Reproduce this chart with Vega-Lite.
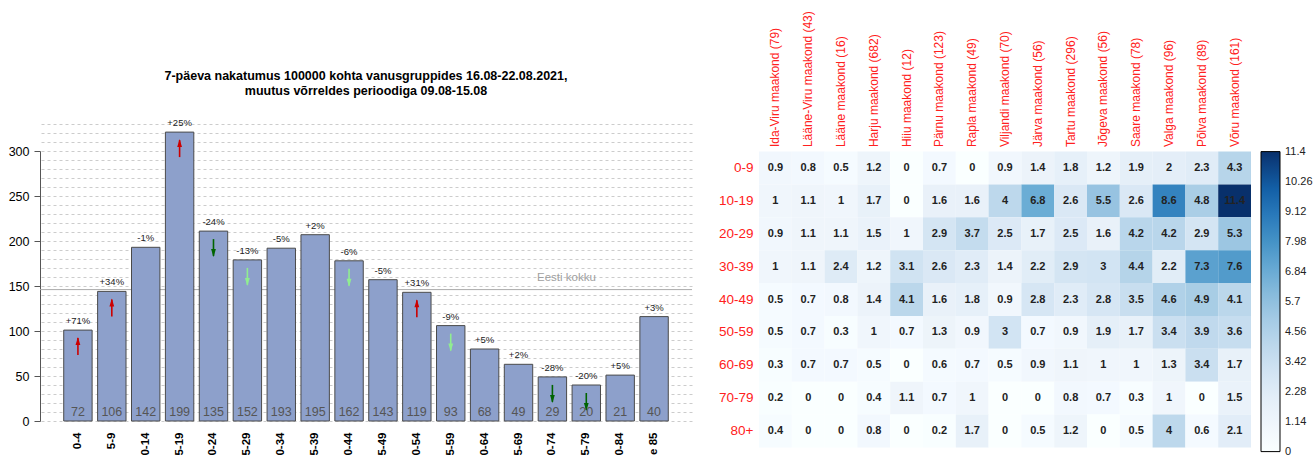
{
  "$schema": "https://vega.github.io/schema/vega-lite/v6.json",
  "padding": {"left": 8, "top": 10, "right": 0, "bottom": 0},
  "bounds": "flush",
  "spacing": 67,
  "config": {"font": "Liberation Sans", "view": {"stroke": null}},
  "datasets": {
    "ages": [
      {"age": "0-4", "value": 101, "count": 72, "chg": "+71%", "trend": "up"},
      {"age": "5-9", "value": 144, "count": 106, "chg": "+34%", "trend": "up"},
      {"age": "10-14", "value": 193, "count": 142, "chg": "-1%", "trend": "none"},
      {"age": "15-19", "value": 321, "count": 199, "chg": "+25%", "trend": "up"},
      {"age": "20-24", "value": 211, "count": 135, "chg": "-24%", "trend": "down"},
      {"age": "25-29", "value": 179, "count": 152, "chg": "-13%", "trend": "down_light"},
      {"age": "30-34", "value": 192, "count": 193, "chg": "-5%", "trend": "none"},
      {"age": "35-39", "value": 207, "count": 195, "chg": "+2%", "trend": "none"},
      {"age": "40-44", "value": 178, "count": 162, "chg": "-6%", "trend": "down_light"},
      {"age": "45-49", "value": 157, "count": 143, "chg": "-5%", "trend": "none"},
      {"age": "50-54", "value": 143, "count": 119, "chg": "+31%", "trend": "up"},
      {"age": "55-59", "value": 106, "count": 93, "chg": "-9%", "trend": "down_light"},
      {"age": "60-64", "value": 80, "count": 68, "chg": "+5%", "trend": "none"},
      {"age": "65-69", "value": 63, "count": 49, "chg": "+2%", "trend": "none"},
      {"age": "70-74", "value": 49, "count": 29, "chg": "-28%", "trend": "down"},
      {"age": "75-79", "value": 40, "count": 20, "chg": "-20%", "trend": "down"},
      {"age": "80-84", "value": 51, "count": 21, "chg": "+5%", "trend": "none"},
      {"age": "üle 85", "value": 116, "count": 40, "chg": "+3%", "trend": "none"}
    ],
    "total": [{"label": "Eesti kokku", "value": 146}],
    "heat": [
      {"age": "0-9", "county": "Ida-Viru maakond (79)", "value": 0.9},
      {"age": "0-9", "county": "Lääne-Viru maakond (43)", "value": 0.8},
      {"age": "0-9", "county": "Lääne maakond (16)", "value": 0.5},
      {"age": "0-9", "county": "Harju maakond (682)", "value": 1.2},
      {"age": "0-9", "county": "Hiiu maakond (12)", "value": 0},
      {"age": "0-9", "county": "Pärnu maakond (123)", "value": 0.7},
      {"age": "0-9", "county": "Rapla maakond (49)", "value": 0},
      {"age": "0-9", "county": "Viljandi maakond (70)", "value": 0.9},
      {"age": "0-9", "county": "Järva maakond (56)", "value": 1.4},
      {"age": "0-9", "county": "Tartu maakond (296)", "value": 1.8},
      {"age": "0-9", "county": "Jõgeva maakond (56)", "value": 1.2},
      {"age": "0-9", "county": "Saare maakond (78)", "value": 1.9},
      {"age": "0-9", "county": "Valga maakond (96)", "value": 2},
      {"age": "0-9", "county": "Põlva maakond (89)", "value": 2.3},
      {"age": "0-9", "county": "Võru maakond (161)", "value": 4.3},
      {"age": "10-19", "county": "Ida-Viru maakond (79)", "value": 1},
      {"age": "10-19", "county": "Lääne-Viru maakond (43)", "value": 1.1},
      {"age": "10-19", "county": "Lääne maakond (16)", "value": 1},
      {"age": "10-19", "county": "Harju maakond (682)", "value": 1.7},
      {"age": "10-19", "county": "Hiiu maakond (12)", "value": 0},
      {"age": "10-19", "county": "Pärnu maakond (123)", "value": 1.6},
      {"age": "10-19", "county": "Rapla maakond (49)", "value": 1.6},
      {"age": "10-19", "county": "Viljandi maakond (70)", "value": 4},
      {"age": "10-19", "county": "Järva maakond (56)", "value": 6.8},
      {"age": "10-19", "county": "Tartu maakond (296)", "value": 2.6},
      {"age": "10-19", "county": "Jõgeva maakond (56)", "value": 5.5},
      {"age": "10-19", "county": "Saare maakond (78)", "value": 2.6},
      {"age": "10-19", "county": "Valga maakond (96)", "value": 8.6},
      {"age": "10-19", "county": "Põlva maakond (89)", "value": 4.8},
      {"age": "10-19", "county": "Võru maakond (161)", "value": 11.4},
      {"age": "20-29", "county": "Ida-Viru maakond (79)", "value": 0.9},
      {"age": "20-29", "county": "Lääne-Viru maakond (43)", "value": 1.1},
      {"age": "20-29", "county": "Lääne maakond (16)", "value": 1.1},
      {"age": "20-29", "county": "Harju maakond (682)", "value": 1.5},
      {"age": "20-29", "county": "Hiiu maakond (12)", "value": 1},
      {"age": "20-29", "county": "Pärnu maakond (123)", "value": 2.9},
      {"age": "20-29", "county": "Rapla maakond (49)", "value": 3.7},
      {"age": "20-29", "county": "Viljandi maakond (70)", "value": 2.5},
      {"age": "20-29", "county": "Järva maakond (56)", "value": 1.7},
      {"age": "20-29", "county": "Tartu maakond (296)", "value": 2.5},
      {"age": "20-29", "county": "Jõgeva maakond (56)", "value": 1.6},
      {"age": "20-29", "county": "Saare maakond (78)", "value": 4.2},
      {"age": "20-29", "county": "Valga maakond (96)", "value": 4.2},
      {"age": "20-29", "county": "Põlva maakond (89)", "value": 2.9},
      {"age": "20-29", "county": "Võru maakond (161)", "value": 5.3},
      {"age": "30-39", "county": "Ida-Viru maakond (79)", "value": 1},
      {"age": "30-39", "county": "Lääne-Viru maakond (43)", "value": 1.1},
      {"age": "30-39", "county": "Lääne maakond (16)", "value": 2.4},
      {"age": "30-39", "county": "Harju maakond (682)", "value": 1.2},
      {"age": "30-39", "county": "Hiiu maakond (12)", "value": 3.1},
      {"age": "30-39", "county": "Pärnu maakond (123)", "value": 2.6},
      {"age": "30-39", "county": "Rapla maakond (49)", "value": 2.3},
      {"age": "30-39", "county": "Viljandi maakond (70)", "value": 1.4},
      {"age": "30-39", "county": "Järva maakond (56)", "value": 2.2},
      {"age": "30-39", "county": "Tartu maakond (296)", "value": 2.9},
      {"age": "30-39", "county": "Jõgeva maakond (56)", "value": 3},
      {"age": "30-39", "county": "Saare maakond (78)", "value": 4.4},
      {"age": "30-39", "county": "Valga maakond (96)", "value": 2.2},
      {"age": "30-39", "county": "Põlva maakond (89)", "value": 7.3},
      {"age": "30-39", "county": "Võru maakond (161)", "value": 7.6},
      {"age": "40-49", "county": "Ida-Viru maakond (79)", "value": 0.5},
      {"age": "40-49", "county": "Lääne-Viru maakond (43)", "value": 0.7},
      {"age": "40-49", "county": "Lääne maakond (16)", "value": 0.8},
      {"age": "40-49", "county": "Harju maakond (682)", "value": 1.4},
      {"age": "40-49", "county": "Hiiu maakond (12)", "value": 4.1},
      {"age": "40-49", "county": "Pärnu maakond (123)", "value": 1.6},
      {"age": "40-49", "county": "Rapla maakond (49)", "value": 1.8},
      {"age": "40-49", "county": "Viljandi maakond (70)", "value": 0.9},
      {"age": "40-49", "county": "Järva maakond (56)", "value": 2.8},
      {"age": "40-49", "county": "Tartu maakond (296)", "value": 2.3},
      {"age": "40-49", "county": "Jõgeva maakond (56)", "value": 2.8},
      {"age": "40-49", "county": "Saare maakond (78)", "value": 3.5},
      {"age": "40-49", "county": "Valga maakond (96)", "value": 4.6},
      {"age": "40-49", "county": "Põlva maakond (89)", "value": 4.9},
      {"age": "40-49", "county": "Võru maakond (161)", "value": 4.1},
      {"age": "50-59", "county": "Ida-Viru maakond (79)", "value": 0.5},
      {"age": "50-59", "county": "Lääne-Viru maakond (43)", "value": 0.7},
      {"age": "50-59", "county": "Lääne maakond (16)", "value": 0.3},
      {"age": "50-59", "county": "Harju maakond (682)", "value": 1},
      {"age": "50-59", "county": "Hiiu maakond (12)", "value": 0.7},
      {"age": "50-59", "county": "Pärnu maakond (123)", "value": 1.3},
      {"age": "50-59", "county": "Rapla maakond (49)", "value": 0.9},
      {"age": "50-59", "county": "Viljandi maakond (70)", "value": 3},
      {"age": "50-59", "county": "Järva maakond (56)", "value": 0.7},
      {"age": "50-59", "county": "Tartu maakond (296)", "value": 0.9},
      {"age": "50-59", "county": "Jõgeva maakond (56)", "value": 1.9},
      {"age": "50-59", "county": "Saare maakond (78)", "value": 1.7},
      {"age": "50-59", "county": "Valga maakond (96)", "value": 3.4},
      {"age": "50-59", "county": "Põlva maakond (89)", "value": 3.9},
      {"age": "50-59", "county": "Võru maakond (161)", "value": 3.6},
      {"age": "60-69", "county": "Ida-Viru maakond (79)", "value": 0.3},
      {"age": "60-69", "county": "Lääne-Viru maakond (43)", "value": 0.7},
      {"age": "60-69", "county": "Lääne maakond (16)", "value": 0.7},
      {"age": "60-69", "county": "Harju maakond (682)", "value": 0.5},
      {"age": "60-69", "county": "Hiiu maakond (12)", "value": 0},
      {"age": "60-69", "county": "Pärnu maakond (123)", "value": 0.6},
      {"age": "60-69", "county": "Rapla maakond (49)", "value": 0.7},
      {"age": "60-69", "county": "Viljandi maakond (70)", "value": 0.5},
      {"age": "60-69", "county": "Järva maakond (56)", "value": 0.9},
      {"age": "60-69", "county": "Tartu maakond (296)", "value": 1.1},
      {"age": "60-69", "county": "Jõgeva maakond (56)", "value": 1},
      {"age": "60-69", "county": "Saare maakond (78)", "value": 1},
      {"age": "60-69", "county": "Valga maakond (96)", "value": 1.3},
      {"age": "60-69", "county": "Põlva maakond (89)", "value": 3.4},
      {"age": "60-69", "county": "Võru maakond (161)", "value": 1.7},
      {"age": "70-79", "county": "Ida-Viru maakond (79)", "value": 0.2},
      {"age": "70-79", "county": "Lääne-Viru maakond (43)", "value": 0},
      {"age": "70-79", "county": "Lääne maakond (16)", "value": 0},
      {"age": "70-79", "county": "Harju maakond (682)", "value": 0.4},
      {"age": "70-79", "county": "Hiiu maakond (12)", "value": 1.1},
      {"age": "70-79", "county": "Pärnu maakond (123)", "value": 0.7},
      {"age": "70-79", "county": "Rapla maakond (49)", "value": 1},
      {"age": "70-79", "county": "Viljandi maakond (70)", "value": 0},
      {"age": "70-79", "county": "Järva maakond (56)", "value": 0},
      {"age": "70-79", "county": "Tartu maakond (296)", "value": 0.8},
      {"age": "70-79", "county": "Jõgeva maakond (56)", "value": 0.7},
      {"age": "70-79", "county": "Saare maakond (78)", "value": 0.3},
      {"age": "70-79", "county": "Valga maakond (96)", "value": 1},
      {"age": "70-79", "county": "Põlva maakond (89)", "value": 0},
      {"age": "70-79", "county": "Võru maakond (161)", "value": 1.5},
      {"age": "80+", "county": "Ida-Viru maakond (79)", "value": 0.4},
      {"age": "80+", "county": "Lääne-Viru maakond (43)", "value": 0},
      {"age": "80+", "county": "Lääne maakond (16)", "value": 0},
      {"age": "80+", "county": "Harju maakond (682)", "value": 0.8},
      {"age": "80+", "county": "Hiiu maakond (12)", "value": 0},
      {"age": "80+", "county": "Pärnu maakond (123)", "value": 0.2},
      {"age": "80+", "county": "Rapla maakond (49)", "value": 1.7},
      {"age": "80+", "county": "Viljandi maakond (70)", "value": 0},
      {"age": "80+", "county": "Järva maakond (56)", "value": 0.5},
      {"age": "80+", "county": "Tartu maakond (296)", "value": 1.2},
      {"age": "80+", "county": "Jõgeva maakond (56)", "value": 0},
      {"age": "80+", "county": "Saare maakond (78)", "value": 0.5},
      {"age": "80+", "county": "Valga maakond (96)", "value": 4},
      {"age": "80+", "county": "Põlva maakond (89)", "value": 0.6},
      {"age": "80+", "county": "Võru maakond (161)", "value": 2.1}
    ]
  },
  "hconcat": [
    {
      "width": 652,
      "height": 297,
      "title": {
        "text": ["7-päeva nakatumus 100000 kohta vanusgruppides 16.08-22.08.2021,", "muutus võrreldes perioodiga 09.08-15.08"],
        "fontSize": 12.5,
        "fontWeight": "bold",
        "color": "#000000",
        "anchor": "middle",
        "offset": 21,
        "lineHeight": 14.6
      },
      "resolve": {"axis": {"y": "independent"}},
      "layer": [
        {
          "data": {"name": "total"},
          "mark": {"type": "rule", "color": "#aaaaaa", "strokeWidth": 1},
          "encoding": {
            "y": {
              "field": "value", "type": "quantitative",
              "scale": {"domain": [0, 330], "nice": false, "zero": true},
              "axis": {
                "orient": "right",
                "title": null,
                "values": [0, 10, 20, 30, 40, 50, 60, 70, 80, 90, 100, 110, 120, 130, 140, 150, 160, 170, 180, 190, 200, 210, 220, 230, 240, 250, 260, 270, 280, 290, 300, 310, 320, 330],
                "labels": false,
                "ticks": false,
                "domain": false,
                "grid": true,
                "gridDash": [3, 3],
                "gridColor": "#cccccc",
                "gridWidth": 1
              }
            }
          }
        },
        {
          "data": {"name": "ages"},
          "mark": {"type": "bar", "fill": "#8da0cb", "stroke": "#4a4a4a", "strokeWidth": 1},
          "encoding": {
            "x": {
              "field": "age", "type": "nominal", "sort": null,
              "scale": {"paddingInner": 0.162, "paddingOuter": 0.7},
              "axis": {"title": null, "labelAngle": -90, "labelFontSize": 11.5, "labelFontWeight": "bold", "labelColor": "#000000", "domain": false, "ticks": false, "labelPadding": 11}
            },
            "y": {
              "field": "value", "type": "quantitative",
              "axis": {
                "orient": "left",
                "title": null,
                "values": [0, 50, 100, 150, 200, 250, 300],
                "grid": false,
                "tickSize": 6,
                "tickColor": "#555555",
                "domainColor": "#555555",
                "domainDash": [270, 100],
                "labelFontSize": 12.5,
                "labelColor": "#000000",
                "labelPadding": 5,
                "labelOverlap": false
              }
            }
          }
        },
        {
          "data": {"name": "total"},
          "mark": {"type": "text", "color": "#a0a0a0", "fontSize": 11.5, "baseline": "middle", "dy": -12, "dx": 14},
          "encoding": {
            "x": {"datum": "70-74", "type": "nominal"},
            "y": {"field": "value", "type": "quantitative", "axis": null},
            "text": {"field": "label"}
          }
        },
        {
          "data": {"name": "ages"},
          "transform": [{"filter": "datum.trend !== 'none'"}],
          "mark": {"type": "rule", "strokeWidth": 1.6, "yOffset": 8, "y2Offset": 25},
          "encoding": {
            "x": {"field": "age", "type": "nominal", "sort": null},
            "y": {"field": "value", "type": "quantitative", "axis": null},
            "y2": {"field": "value"},
            "color": {"field": "trend", "type": "nominal", "scale": {"domain": ["up", "down", "down_light"], "range": ["#cc0000", "#006400", "#90ee90"]}, "legend": null}
          }
        },
        {
          "data": {"name": "ages"},
          "transform": [{"filter": "datum.trend === 'up'"}],
          "mark": {"type": "point", "shape": "M0,-1L0.6,1L-0.6,1Z", "filled": true, "size": 64, "yOffset": 11, "opacity": 1, "strokeWidth": 0},
          "encoding": {
            "x": {"field": "age", "type": "nominal", "sort": null},
            "y": {"field": "value", "type": "quantitative", "axis": null},
            "color": {"field": "trend", "type": "nominal", "legend": null}
          }
        },
        {
          "data": {"name": "ages"},
          "transform": [{"filter": "datum.trend === 'down' || datum.trend === 'down_light'"}],
          "mark": {"type": "point", "shape": "M0,1L0.6,-1L-0.6,-1Z", "filled": true, "size": 64, "yOffset": 22, "opacity": 1, "strokeWidth": 0},
          "encoding": {
            "x": {"field": "age", "type": "nominal", "sort": null},
            "y": {"field": "value", "type": "quantitative", "axis": null},
            "color": {"field": "trend", "type": "nominal", "legend": null}
          }
        },
        {
          "data": {"name": "ages"},
          "mark": {"type": "text", "baseline": "bottom", "dy": -4, "fontSize": 9.5, "color": "#222222"},
          "encoding": {
            "x": {"field": "age", "type": "nominal", "sort": null},
            "y": {"field": "value", "type": "quantitative", "axis": null},
            "text": {"field": "chg"}
          }
        },
        {
          "data": {"name": "ages"},
          "mark": {"type": "text", "baseline": "bottom", "dy": -2, "fontSize": 12.5, "color": "#555555"},
          "encoding": {
            "x": {"field": "age", "type": "nominal", "sort": null},
            "y": {"datum": 0, "type": "quantitative", "axis": null},
            "text": {"field": "count"}
          }
        }
      ]
    },
    {
      "width": 492,
      "height": 351,
      "data": {"name": "heat"},
      "encoding": {
        "x": {
          "field": "county", "type": "nominal",
          "sort": ["Ida-Viru maakond (79)", "Lääne-Viru maakond (43)", "Lääne maakond (16)", "Harju maakond (682)", "Hiiu maakond (12)", "Pärnu maakond (123)", "Rapla maakond (49)", "Viljandi maakond (70)", "Järva maakond (56)", "Tartu maakond (296)", "Jõgeva maakond (56)", "Saare maakond (78)", "Valga maakond (96)", "Põlva maakond (89)", "Võru maakond (161)"],
          "scale": {"paddingInner": 0, "paddingOuter": 0},
          "axis": {"orient": "top", "title": null, "labelAngle": -90, "labelColor": "#ff2020", "labelFontSize": 12, "domain": false, "ticks": false, "labelPadding": 5, "offset": -27.6}
        },
        "y": {
          "field": "age", "type": "nominal",
          "sort": ["0-9", "10-19", "20-29", "30-39", "40-49", "50-59", "60-69", "70-79", "80+"],
          "scale": {"paddingInner": 0, "paddingOuter": 0.84},
          "axis": {"title": null, "labelColor": "#ff2020", "labelFontSize": 13.5, "domain": false, "ticks": false, "labelPadding": 6}
        }
      },
      "layer": [
        {
          "mark": {"type": "rect"},
          "encoding": {
            "color": {
              "field": "value", "type": "quantitative",
              "scale": {
                "domain": [0, 1.14, 2.28, 3.42, 4.56, 5.7, 6.84, 7.98, 9.12, 10.26, 11.4],
                "range": ["#ffffff", "#eff5fb", "#e0ecf7", "#cadff0", "#b1d2e8", "#91c0df", "#6aacd5", "#4592c6", "#2676b8", "#0d58a1", "#08306b"]
              },
              "legend": {
                "title": null,
                "orient": "none",
                "legendX": 502,
                "legendY": 27.6,
                "direction": "vertical",
                "gradientLength": 300,
                "gradientThickness": 19,
                "gradientStrokeColor": "#000000",
                "gradientStrokeWidth": 1,
                "values": [0, 1.14, 2.28, 3.42, 4.56, 5.7, 6.84, 7.98, 9.12, 10.26, 11.4],
                "format": ".4~g",
                "labelFontSize": 11,
                "labelColor": "#222222",
                "labelOffset": 5,
                "labelBaseline": "middle",
                "labelOverlap": false,
                "encode": {"labels": {"update": {"baseline": {"value": "middle"}}}}
              }
            }
          }
        },
        {
          "mark": {"type": "text", "fontWeight": "bold", "fontSize": 11, "color": "#222222"},
          "encoding": {"text": {"field": "value", "type": "quantitative", "format": "~g"}}
        }
      ]
    }
  ]
}
